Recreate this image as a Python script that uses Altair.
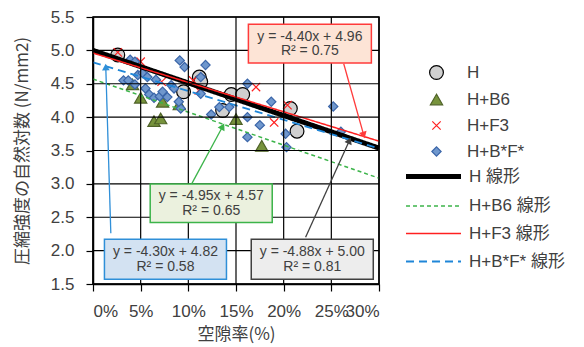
import altair as alt
import pandas as pd

# ---------------- data ----------------
series = ["H", "H+B6", "H+F3", "H+B*F*"]

h_x = [2.6, 9.5, 11.15, 11.3, 13.6, 14.5, 15.7, 20.7, 21.4]
h_y = [4.93, 4.38, 4.60, 4.53, 4.10, 4.34, 4.34, 4.13, 3.79]

b6_x = [4.15, 5.0, 7.3, 9.05, 6.4, 7.1, 15.0, 17.7]
b6_y = [4.49, 4.29, 4.23, 4.19, 3.94, 3.98, 3.97, 3.57]

f3_x = [2.6, 5.0, 7.2, 10.5, 11.1, 17.1, 19.0, 20.4]
f3_y = [4.97, 4.83, 4.53, 4.55, 4.40, 4.45, 3.92, 4.18]

bf_x = [3.2, 3.7, 3.9, 4.4, 4.7, 5.2, 5.7, 6.6, 4.4, 5.5, 5.9, 6.4, 7.0, 7.3, 7.8,
        8.2, 8.5, 9.1, 9.6, 9.2, 9.0, 11.3, 11.3, 11.8, 12.4, 13.25, 14.3, 16.2,
        16.2, 17.5, 16.2, 18.7, 20.2, 20.3, 25.2, 26.0]
bf_y = [4.55, 4.55, 4.86, 4.83, 4.63, 4.66, 4.60, 4.56, 4.49, 4.43, 4.34, 4.29, 4.31, 4.38, 4.30,
        4.48, 4.43, 4.85, 4.75, 4.13, 4.23, 4.60, 4.35, 4.78, 4.04, 4.15, 4.15, 4.50,
        4.00, 3.88, 3.70, 4.23, 3.75, 3.55, 4.16, 3.78]

trend_names = ["H 線形", "H+B6 線形", "H+F3 線形", "H+B*F* 線形"]
slopes = [-4.88, -4.95, -4.40, -4.30]
intercepts = [5.00, 4.57, 4.96, 4.82]
r2 = [0.81, 0.65, 0.75, 0.58]

x_ticks = [0, 5, 10, 15, 20, 25, 30]
y_ticks = [1.5, 2.0, 2.5, 3.0, 3.5, 4.0, 4.5, 5.0, 5.5]

# annotation boxes (data units): order red(F3), green(B6), blue(B*F*), gray(H)
box_idx = [2, 1, 3, 0]
box_x1 = [16.3, 6.0, 1.2, 16.6]
box_x2 = [29.2, 18.8, 14.0, 29.4]
box_y1 = [5.39, 3.00, 2.17, 2.17]
box_y2 = [4.81, 2.42, 1.57, 1.57]
box_fill = ["#FDE4D6", "#EBF1DE", "#D3E2F2", "#EDEDED"]
box_stroke = ["#FF3B3B", "#3CB44A", "#2F8FD8", "#404040"]

arrow_x1 = [26.3, 10.35, 1.87, 22.3]
arrow_y1 = [4.80, 3.00, 2.26, 2.20]
arrow_x2 = [28.4, 13.6, 1.34, 26.9]
arrow_y2 = [3.73, 3.86, 4.75, 3.65]
arrow_angle = [164, 28, 358, 24]

# ---------------- tables ----------------
rows = []
for name, xs_, ys_ in zip(series, [h_x, b6_x, f3_x, bf_x], [h_y, b6_y, f3_y, bf_y]):
    for xv, yv in zip(xs_, ys_):
        rows.append({"x": xv, "y": yv, "series": name})
pts = pd.DataFrame(rows)

trows = []
for name, a, b in zip(trend_names, slopes, intercepts):
    for xv in (x_ticks[0], x_ticks[-1]):
        trows.append({"x": xv, "y": b + a * xv / 100.0, "trend": name})
tr = pd.DataFrame(trows)

trows2 = []
for i, k in enumerate(box_idx):
    cx = (box_x1[i] + box_x2[i]) / 2
    h = box_y1[i] - box_y2[i]
    trows2.append({"x": cx, "y": box_y1[i] - h * 0.32,
                   "t": f"y = {slopes[k]:.2f}x  + {intercepts[k]:.2f}"})
    trows2.append({"x": cx, "y": box_y1[i] - h * 0.70, "t": f"R² = {r2[k]:.2f}"})
texts = pd.DataFrame(trows2)

# ---------------- styling ----------------
FONT = "Liberation Sans, Arial, Noto Sans CJK JP, sans-serif"
JP = "Noto Sans CJK JP, sans-serif"
TXT = "#404040"
cross = "M-0.8,-0.8L0.8,0.8M-0.8,0.8L0.8,-0.8"
hline = "M-2,0L2,0"

xs = alt.Scale(domain=[0, 30], nice=False, zero=False)
ys = alt.Scale(domain=[1.5, 5.5], nice=False, zero=False)

common = dict(grid=False, domainColor="#000000", domainWidth=1.5, tickColor="#000000",
              tickSize=7, tickWidth=1.2, labelFont=FONT, labelFontSize=17, labelColor=TXT,
              labelPadding=12, labelOverlap=False, titleFontWeight="normal", titleColor=TXT)
x_axis = alt.Axis(values=x_ticks, labelExpr="datum.value + '%'", title="空隙率(%)",
                  titleFont=JP, titleFontSize=17, titlePadding=7, **common)
y_axis = alt.Axis(values=y_ticks, format=".1f", title="圧縮強度の自然対数 (N/mm2)",
                  titleFont=JP, titleFontSize=17, titlePadding=19, **common)
X = alt.X("x:Q", scale=xs, axis=x_axis)
Y = alt.Y("y:Q", scale=ys, axis=y_axis)

pt_leg = alt.Legend(title=None, orient="none", legendX=335, legendY=47,
                    labelOffset=22, rowPadding=8, labelFontSize=17, labelFont=FONT,
                    labelColor=TXT, symbolStrokeWidth=1.2)
ln_leg = alt.Legend(title=None, orient="none", legendX=324, legendY=143,
                    symbolType=hline, symbolSize=756, labelOffset=19,
                    rowPadding=4.5, labelFontSize=17, labelFont=FONT, labelColor=TXT)

points = alt.Chart(pts).mark_point(opacity=1, strokeWidth=1.2).encode(
    x=X, y=Y,
    shape=alt.Shape("series:N", scale=alt.Scale(domain=series,
                    range=["circle", "triangle-up", cross, "diamond"]), legend=pt_leg),
    fill=alt.Fill("series:N", scale=alt.Scale(domain=series,
                  range=["#D0D0D0", "#77933C", "transparent", "#6F97CD"]), legend=pt_leg),
    stroke=alt.Stroke("series:N", scale=alt.Scale(domain=series,
                      range=["#000000", "#4F6228", "#FF2020", "#3A65A8"]), legend=pt_leg),
    size=alt.Size("series:N", scale=alt.Scale(type="ordinal", domain=series,
                  range=[190, 150, 110, 85]), legend=pt_leg),
)

lines = alt.Chart(tr).mark_line().encode(
    x=X, y=Y,
    color=alt.Color("trend:N", scale=alt.Scale(domain=trend_names,
                    range=["#000000", "#3CB44A", "#FF2020", "#1F86D8"]), legend=ln_leg),
    strokeDash=alt.StrokeDash("trend:N", scale=alt.Scale(domain=trend_names,
                              range=[[1, 0], [4, 3], [1, 0], [8, 5]]), legend=ln_leg),
    strokeWidth=alt.StrokeWidth("trend:N", scale=alt.Scale(type="ordinal", domain=trend_names,
                                range=[5, 1.5, 1.5, 1.8]), legend=ln_leg),
)

# grid lines drawn from the tick lists
gx = alt.Chart(pd.DataFrame({"x": x_ticks})).mark_rule(color="#000000", strokeWidth=1.2).encode(x=X)
gy = alt.Chart(pd.DataFrame({"y": y_ticks})).mark_rule(color="#000000", strokeWidth=1.2).encode(y=Y)

layers = [points, lines, gx, gy]
for i in range(len(box_idx)):
    one = pd.DataFrame({"x": [box_x1[i]], "xe": [box_x2[i]],
                        "y": [box_y1[i]], "ye": [box_y2[i]]})
    layers.append(alt.Chart(one).mark_rect(strokeWidth=1.5, fill=box_fill[i],
                                           stroke=box_stroke[i]).encode(
        x=X, x2="xe:Q", y=Y, y2="ye:Q"))
layers.append(alt.Chart(texts).mark_text(font=FONT, fontSize=14, color=TXT).encode(
    x=X, y=Y, text="t:N"))
for i in range(len(box_idx)):
    one = pd.DataFrame({"x": [arrow_x1[i]], "y": [arrow_y1[i]],
                        "xe": [arrow_x2[i]], "ye": [arrow_y2[i]]})
    layers.append(alt.Chart(one).mark_rule(strokeWidth=1.3, color=box_stroke[i]).encode(
        x=X, y=Y, x2="xe:Q", y2="ye:Q"))
    head = pd.DataFrame({"x": [arrow_x2[i]], "y": [arrow_y2[i]], "angle": [arrow_angle[i]]})
    layers.append(alt.Chart(head).mark_point(shape="triangle-up", filled=True, size=60,
                                             opacity=1, color=box_stroke[i]).encode(
        x=X, y=Y, angle=alt.Angle("angle:Q", scale=None)))

chart = alt.layer(*layers).properties(
    width=286, height=267, padding={"left": 5, "top": 0, "right": 5, "bottom": 5}
).configure_view(stroke="#000000", strokeWidth=1.5)

chart.save("out.html", embed_options={"renderer": "svg", "actions": False})
